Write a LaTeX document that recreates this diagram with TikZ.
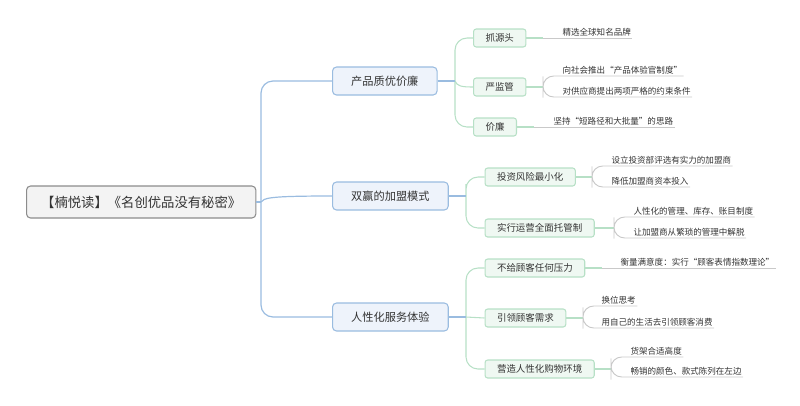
\documentclass[tikz,border=0pt]{standalone}
\usepackage{fontspec}
\setmainfont{Noto Sans CJK SC}
\usepackage{xcolor}
\definecolor{rootfill}{HTML}{F3F3F3}
\definecolor{rootline}{HTML}{8C8C8C}
\definecolor{bluefill}{HTML}{EEF3FB}
\definecolor{blueline}{HTML}{9ABCE0}
\definecolor{greenfill}{HTML}{EFF8F2}
\definecolor{greenline}{HTML}{B7E0C6}
\definecolor{leafcolor}{HTML}{C9C9C9}
\definecolor{inkcolor}{HTML}{333333}
\tikzset{
  rootbox/.style={draw=rootline,fill=rootfill,rounded corners=3pt,line width=0.8pt,anchor=west,
    minimum height=24pt,inner xsep=11pt,inner ysep=0pt,text=inkcolor,font=\fontsize{10}{12}\selectfont},
  mainbox/.style={draw=blueline,fill=bluefill,rounded corners=3pt,line width=0.8pt,anchor=west,
    minimum height=21pt,inner xsep=14pt,inner ysep=0pt,text=inkcolor,font=\fontsize{8.4}{10}\selectfont},
  subbox/.style={draw=greenline,fill=greenfill,rounded corners=2pt,line width=0.8pt,anchor=west,
    minimum height=13.5pt,inner xsep=9pt,inner ysep=0pt,text=inkcolor,font=\fontsize{7.1}{9}\selectfont},
  leaf/.style={anchor=south west,inner xsep=1pt,inner ysep=1.2pt,text height=5.6pt,text depth=0.6pt,
    text=inkcolor,font=\fontsize{6.4}{8}\selectfont},
  blueedge/.style={draw=blueline,line width=0.9pt},
  greenedge/.style={draw=greenline,line width=0.8pt},
  leafedge/.style={draw=leafcolor,line width=0.7pt},
}
\begin{document}
\begin{tikzpicture}[x=0.75pt,y=-0.75pt]
  \useasboundingbox (0,0) rectangle (800,405);

  \node[rootbox] (root) at (26,202) {【楠悦读】《名创优品没有秘密》};

  \node[mainbox] (quality) at (332,81) {产品质优价廉};
  \node[mainbox] (winwin) at (332,196) {双赢的加盟模式};
  \node[mainbox] (service) at (332,317) {人性化服务体验};

  \node[subbox] (source) at (473,38) {抓源头};
  \node[subbox] (strict) at (473,87) {严监管};
  \node[subbox] (cheap) at (473,127) {价廉};
  \node[subbox] (risk) at (484.5,177) {投资风险最小化};
  \node[subbox] (trust) at (484.5,228) {实行运营全面托管制};
  \node[subbox] (nopress) at (484.5,268) {不给顾客任何压力};
  \node[subbox] (lead) at (484.5,318) {引领顾客需求};
  \node[subbox] (shop) at (484.5,369) {营造人性化购物环境};

  \node[leaf] (brand) at (561,38) {精选全球知名品牌};
  \node[leaf] (officer) at (561,76) {向社会推出“产品体验官制度”};
  \node[leaf] (supplier) at (561,97) {对供应商提出两项严格的约束条件};
  \node[leaf] (path) at (552,127) {坚持“短路径和大批量”的思路};
  \node[leaf] (invest) at (610,166) {设立投资部评选有实力的加盟商};
  \node[leaf] (capital) at (610,187) {降低加盟商资本投入};
  \node[leaf] (manage) at (632,217) {人性化的管理、库存、账目制度};
  \node[leaf] (freeing) at (632,238) {让加盟商从繁琐的管理中解脱};
  \node[leaf] (measure) at (619,268) {衡量满意度：实行“顾客表情指数理论”};
  \node[leaf] (swap) at (600,306) {换位思考};
  \node[leaf] (life) at (600,328) {用自己的生活去引领顾客消费};
  \node[leaf] (shelf) at (629,357) {货架合适高度};
  \node[leaf] (colour) at (629,377) {畅销的颜色、款式陈列在左边};

  \coordinate (trunk) at (261,202);
  \coordinate (qstem) at (455,81);
  \coordinate (wstem) at (466,196);
  \coordinate (sstem) at (466,317);
  \coordinate (brandstem) at (543,38);
  \coordinate (strictstem) at (543,87);
  \coordinate (pathstem) at (534,127);
  \coordinate (riskstem) at (592,177);
  \coordinate (truststem) at (614,228);
  \coordinate (measurestem) at (602,268);
  \coordinate (leadstem) at (583,318);
  \coordinate (shopstem) at (611,369);

  \draw[greenedge,rounded corners=9pt] (source.west) -| (qstem) |- (cheap.west);
  \draw[greenedge] (qstem) .. controls (457,86) and (461,87) .. (strict.west);
  \draw[greenedge,rounded corners=9pt] (risk.west) -| (wstem) |- (trust.west);
  \draw[greenedge,rounded corners=9pt] (nopress.west) -| (sstem) |- (shop.west);
  \draw[greenedge] (sstem) -- (lead.west);

  \draw[blueedge,rounded corners=9pt] (quality.west) -| (trunk) |- (service.west);
  \draw[blueedge] (root.east) -- (trunk);
  \draw[blueedge] (trunk) .. controls (264,198) and (268,196) .. (winwin.west);
  \draw[blueedge] (quality.east) -- (qstem);
  \draw[blueedge] (winwin.east) -- (wstem);
  \draw[blueedge] (service.east) -- (sstem);

  \draw[greenedge] (source.east) -- (brandstem);
  \draw[greenedge] (strict.east) -- (strictstem);
  \draw[greenedge] (cheap.east) -- (pathstem);
  \draw[greenedge] (risk.east) -- (riskstem);
  \draw[greenedge] (trust.east) -- (truststem);
  \draw[greenedge] (nopress.east) -- (measurestem);
  \draw[greenedge] (lead.east) -- (leadstem);
  \draw[greenedge] (shop.east) -- (shopstem);

  \draw[leafedge] (brandstem) -- (brand.south east);
  \draw[leafedge] (pathstem) -- (path.south east);
  \draw[leafedge] (measurestem) -- (measure.south east);
  \draw[leafedge,rounded corners=8pt] (officer.south east) -| (strictstem) |- (supplier.south east);
  \draw[leafedge,rounded corners=8pt] (invest.south east) -| (riskstem) |- (capital.south east);
  \draw[leafedge,rounded corners=8pt] (manage.south east) -| (truststem) |- (freeing.south east);
  \draw[leafedge,rounded corners=8pt] (swap.south east) -| (leadstem) |- (life.south east);
  \draw[leafedge,rounded corners=8pt] (shelf.south east) -| (shopstem) |- (colour.south east);
\end{tikzpicture}
\end{document}
